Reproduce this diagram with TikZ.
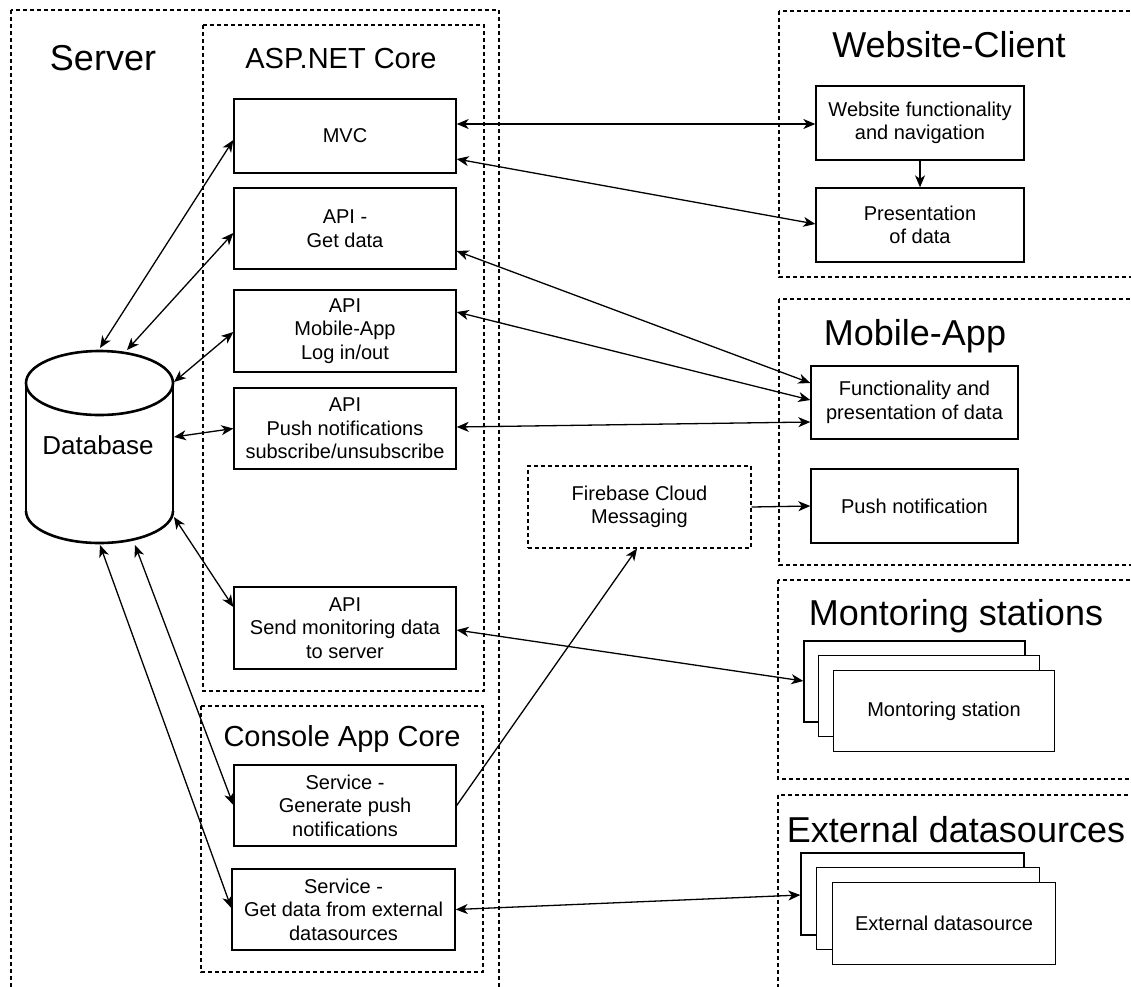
\documentclass[tikz,border=0pt]{standalone}
\usepackage{fontspec}
\setmainfont{Liberation Sans}
\usetikzlibrary{arrows.meta}
\begin{document}
\begin{tikzpicture}[x=1pt,y=-1pt,
  >={Stealth[length=12pt,width=10pt,inset=3.5pt]},
  container/.style={draw, dash pattern=on 4pt off 3pt, line width=1.15pt},
  box/.style={draw, fill=white, line width=1.35pt, inner sep=2pt, align=center,
    font=\fontsize{20}{23.5}\selectfont, minimum width=222pt},
  dbox/.style={box, dash pattern=on 4pt off 3pt, line width=1.15pt},
  bigtitle/.style={anchor=base, inner sep=0pt, font=\fontsize{36}{40}\selectfont},
  midtitle/.style={anchor=base, inner sep=0pt, font=\fontsize{29}{33}\selectfont},
  conn/.style={line width=1.3pt},
  dbline/.style={line width=2.6pt}
]
\useasboundingbox (0,0) rectangle (1131,986);
\clip (0,0) rectangle (1131,986);

% containers
\draw[container] (11,10) rectangle (499,1000);
\draw[container] (203,25) rectangle (484,691);
\draw[container] (201,706) rectangle (483,972);
\draw[container] (779,11) rectangle (1140,277);
\draw[container] (779,299) rectangle (1140,565);
\draw[container] (778,580) rectangle (1140,779);
\draw[container] (778,795) rectangle (1140,1000);

% titles
\node[bigtitle] (tserver) at (103,70) {Server};
\node[midtitle] (tasp) at (341,68) {ASP.NET Core};
\node[midtitle] (tconsole) at (342,746) {Console App Core};
\node[bigtitle] (tweb) at (949,57) {Website-Client};
\node[bigtitle] (tmobile) at (915,345) {Mobile-App};
\node[bigtitle] (tmon) at (956,625) {Montoring stations};
\node[bigtitle] (text) at (956,842) {External datasources};

% database cylinder
\fill[white] (26,383) rectangle (173,511);
\fill[white] (99.5,511) ellipse [x radius=73.5pt, y radius=32pt];
\draw[dbline] (26,383) -- (26,511);
\draw[dbline] (173,383) -- (173,511);
\begin{scope}
  \clip (15,511) rectangle (185,560);
  \draw[dbline] (99.5,511) ellipse [x radius=73.5pt, y radius=32pt];
\end{scope}
\draw[dbline, fill=white] (99.5,383) ellipse [x radius=73.5pt, y radius=32pt];
\node[inner sep=0pt, anchor=base, font=\fontsize{26}{30}\selectfont] (db) at (98,454) {Database};
\coordinate (db1) at (100,348);
\coordinate (db2) at (127,350);
\coordinate (db3) at (174,382);
\coordinate (db4) at (174,437);
\coordinate (db5) at (174,517);
\coordinate (db6) at (135,545);
\coordinate (db7) at (100,545);

% server boxes
\node[box, minimum height=74pt] (mvc) at (345,136) {MVC};
\node[box, minimum height=81pt] (getdata) at (345,228.5) {API -\\Get data};
\node[box, minimum height=82pt] (login) at (345,331) {API\\Mobile-App\\Log in/out};
\node[box, minimum height=81pt] (push) at (345,428.5) {API\\Push notifications\\subscribe/unsubscribe};
\node[box, minimum height=82pt] (sendmon) at (345,628) {API\\Send monitoring data\\to server};
\node[box, minimum height=81pt] (genpush) at (345,805.5) {Service -\\Generate push\\notifications};
\node[box, minimum width=223pt, minimum height=81pt] (getext) at (343.5,909.5) {Service -\\Get data from external\\datasources};

% website client
\node[box, minimum width=208pt, minimum height=74pt] (webfunc) at (920,123) {Website functionality\\and navigation};
\node[box, minimum width=208pt, minimum height=74pt] (present) at (920,225) {Presentation\\of data};

% mobile app
\node[box, minimum width=207pt, minimum height=73pt] (mobfunc) at (914.5,402.5) {Functionality and\\presentation of data};
\node[box, minimum width=207pt, minimum height=74pt] (pushnot) at (914.5,506) {Push notification};

% firebase
\node[dbox, minimum width=223pt, minimum height=82pt] (firebase) at (639.5,507) {Firebase Cloud\\Messaging};

% monitoring stations
\node[box, minimum width=221pt, minimum height=81pt] (mon1) at (914.5,681.5) {};
\node[box, minimum width=221pt, minimum height=81pt] (mon2) at (929,696) {};
\node[box, minimum width=221pt, minimum height=81pt] (mon3) at (944,711) {Montoring station};

% external datasources
\node[box, minimum width=223pt, minimum height=82pt] (ext1) at (912.5,894) {};
\node[box, minimum width=223pt, minimum height=82pt] (ext2) at (928,908.5) {};
\node[box, minimum width=223pt, minimum height=82pt] (ext3) at (944,923.5) {External datasource};

% connectors to clients
\draw[conn,<->] ([yshift=12pt]mvc.east) -- ([yshift=-1pt]webfunc.west);
\draw[conn,<->] ([yshift=-23pt]mvc.east) -- ([yshift=1pt]present.west);
\draw[conn,->] (webfunc.south) -- (present.north);
\draw[conn,<->] ([yshift=-22.5pt]getdata.east) -- ([yshift=19.5pt]mobfunc.west);
\draw[conn,<->] ([yshift=19pt]login.east) -- ([yshift=2.5pt]mobfunc.west);
\draw[conn,<->] ([yshift=1.5pt]push.east) -- ([yshift=-19.5pt]mobfunc.west);
\draw[conn,<->] ([yshift=-2pt]sendmon.east) -- ([yshift=0.5pt]mon1.west);
\draw[conn,<->] (getext.east) -- ([yshift=-1pt]ext1.west);
\draw[conn,->] (genpush.east) -- ([xshift=-2.5pt]firebase.south);
\draw[conn,->] (firebase.east) -- (pushnot.west);

% connectors to database
\draw[conn,<->] (db1) -- ([yshift=-4pt]mvc.west);
\draw[conn,<->] (db2) -- ([yshift=-4.5pt]getdata.west);
\draw[conn,<->] (db3) -- ([yshift=-1pt]login.west);
\draw[conn,<->] (db4) -- (push.west);
\draw[conn,<->] (db5) -- ([yshift=21pt]sendmon.west);
\draw[conn,<->] (db6) -- ([yshift=0.5pt]genpush.west);
\draw[conn,<->] (db7) -- ([yshift=1.5pt]getext.west);
\end{tikzpicture}
\end{document}
